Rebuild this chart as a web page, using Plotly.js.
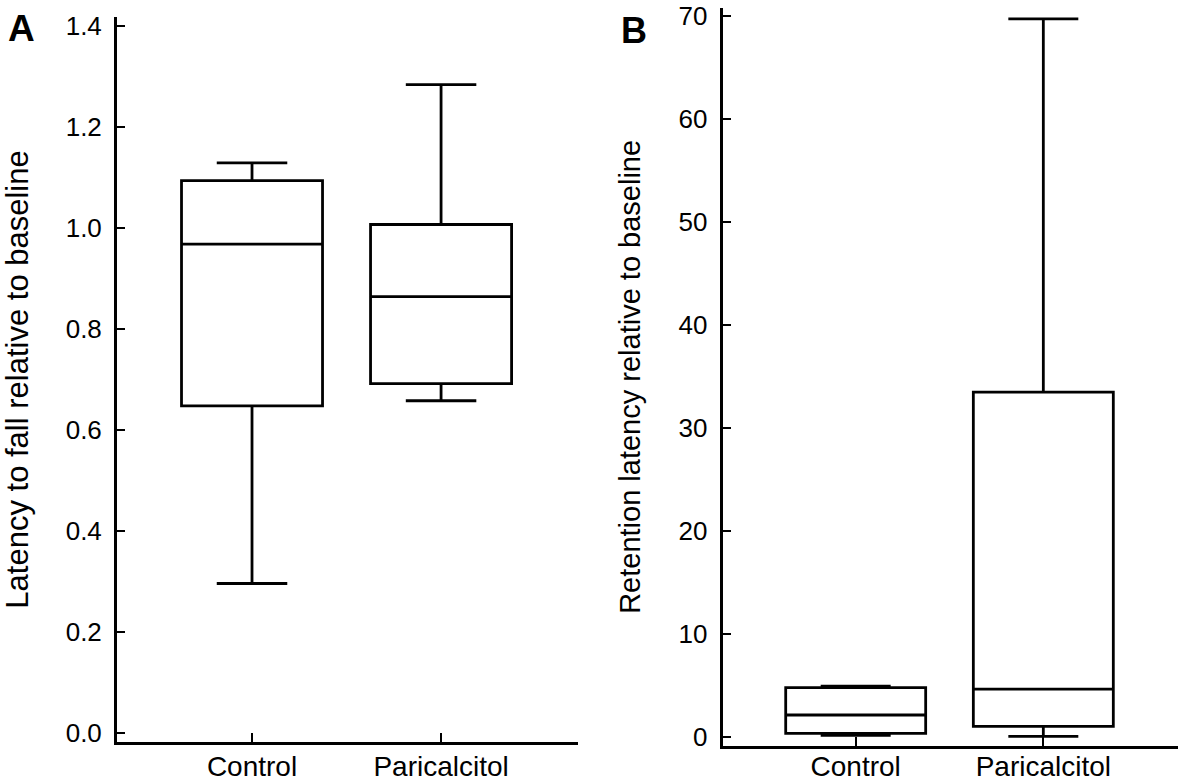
<!DOCTYPE html>
<html>
<head>
<meta charset="utf-8">
<script src="https://cdn.plot.ly/plotly-3.0.1.min.js"></script>
<style>
html, body { margin: 0; padding: 0; background: #fff; }
#chart { width: 1181px; height: 783px; }
</style>
</head>
<body>
<div id="chart"></div>
<script>
// Categories
var groups = ['Control', 'Paricalcitol'];

// Panel A: latency to fall relative to baseline (box statistics)
var latencyLower  = [0.296, 0.658];
var latencyQ1     = [0.648, 0.692];
var latencyMedian = [0.968, 0.864];
var latencyQ3     = [1.094, 1.007];
var latencyUpper  = [1.129, 1.284];

// Panel B: retention latency relative to baseline (box statistics)
var retentionLower  = [0.17, 0.07];
var retentionQ1     = [0.36, 1.04];
var retentionMedian = [2.14, 4.66];
var retentionQ3     = [4.79, 33.5];
var retentionUpper  = [4.95, 69.74];

// Axis titles
var titleA = 'Latency to fall relative to baseline';
var titleB = 'Retention latency relative to baseline';

var FONT = 'Arial, "Liberation Sans", sans-serif';

function boxTrace(q1, med, q3, lo, hi, xa, ya) {
  return {
    type: 'box',
    x: groups,
    q1: q1, median: med, q3: q3,
    lowerfence: lo, upperfence: hi,
    boxpoints: false,
    width: 0.746,
    whiskerwidth: 0.5,
    fillcolor: 'rgba(255,255,255,1)',
    line: { color: '#000', width: 2.8 },
    xaxis: xa, yaxis: ya,
    showlegend: false,
    hoverinfo: 'y'
  };
}

var data = [
  boxTrace(latencyQ1, latencyMedian, latencyQ3, latencyLower, latencyUpper, 'x', 'y'),
  boxTrace(retentionQ1, retentionMedian, retentionQ3, retentionLower, retentionUpper, 'x2', 'y2')
];

function xAxis(domain, range, anchor, labelShift) {
  return {
    domain: domain, range: range, anchor: anchor,
    type: 'category',
    showline: true, linecolor: '#000', linewidth: 3,
    ticks: 'inside', ticklen: 9, tickwidth: 2, tickcolor: '#000',
    showgrid: false, zeroline: false, automargin: false,
    ticklabelstandoff: labelShift,
    tickfont: { family: FONT, size: 28, color: '#000' },
    fixedrange: true
  };
}
function yAxis(domain, range, dtick, fmt, anchor, title, tsize, standoff) {
  return {
    domain: domain, range: range, anchor: anchor,
    dtick: dtick, tick0: 0, tickformat: fmt,
    showline: true, linecolor: '#000', linewidth: 3,
    ticks: 'inside', ticklen: 8, tickwidth: 2, tickcolor: '#000',
    showgrid: false, zeroline: false, automargin: false,
    ticklabelstandoff: 7,
    ticklabeloverflow: 'allow',
    tickfont: { family: FONT, size: 26, color: '#000' },
    title: { text: title, font: { family: FONT, size: tsize, color: '#000' }, standoff: standoff },
    fixedrange: true
  };
}

var layout = {
  width: 1181, height: 783,
  margin: { l: 0, r: 0, t: 0, b: 0 },
  paper_bgcolor: '#fff', plot_bgcolor: '#fff',
  font: { family: FONT, color: '#000' },
  xaxis:  xAxis([0.0991, 0.4892], [-0.714, 1.723], 'y', -3),
  yaxis:  yAxis([0.0524, 0.9783], [-0.0178, 1.418], 0.2, '.1f', 'x', titleA, 31, 34),
  xaxis2: xAxis([0.6119, 0.9975], [-0.709, 1.718], 'y2', -6),
  yaxis2: yAxis([0.0476, 0.9898], [-0.845, 70.8], 10, 'd', 'x2', titleB, 29, 30),
  annotations: [
    { text: '<b>A</b>', xref: 'paper', yref: 'paper', x: 0.0186, y: 0.963,
      xanchor: 'center', yanchor: 'middle', showarrow: false,
      font: { family: FONT, size: 37, color: '#000' } },
    { text: '<b>B</b>', xref: 'paper', yref: 'paper', x: 0.537, y: 0.961,
      xanchor: 'center', yanchor: 'middle', showarrow: false,
      font: { family: FONT, size: 36, color: '#000' } }
  ]
};

Plotly.newPlot('chart', data, layout, { displayModeBar: false, staticPlot: true });
</script>
</body>
</html>
